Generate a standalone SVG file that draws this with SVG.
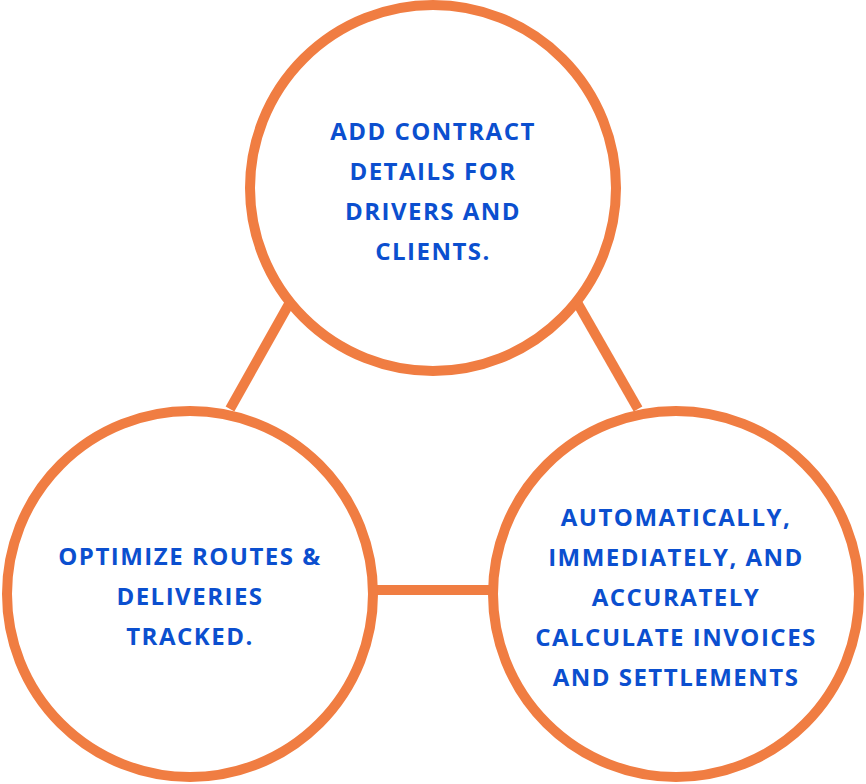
<svg xmlns="http://www.w3.org/2000/svg" width="866" height="784" viewBox="0 0 866 784">
<style>
.c{fill:#fff;stroke:#F07D42;stroke-width:10}
.l{stroke:#F07D42;stroke-width:10;fill:none}
text{font-family:"Open Sans","Liberation Sans",sans-serif;font-weight:bold;font-size:24px;letter-spacing:1.5px;fill:#0B4FCF;text-anchor:middle}
</style>
<rect width="866" height="784" fill="#fff"/>
<g id="connectors">
<line class="l" x1="289" y1="304" x2="230" y2="409"/>
<line class="l" x1="578" y1="304" x2="638" y2="409"/>
<line class="l" x1="373" y1="590" x2="492" y2="590"/>
</g>
<g id="top"><circle class="c" cx="433" cy="188" r="183"/>
<text x="433" y="140">ADD CONTRACT</text><text x="433" y="180">DETAILS FOR</text><text x="433" y="220">DRIVERS AND</text><text x="433" y="260">CLIENTS.</text></g>
<g id="left"><circle class="c" cx="190" cy="594" r="183"/>
<text x="190" y="565">OPTIMIZE ROUTES &amp;</text><text x="190" y="605">DELIVERIES</text><text x="190" y="645">TRACKED.</text></g>
<g id="right"><circle class="c" cx="676" cy="594" r="183"/>
<text x="676" y="526">AUTOMATICALLY,</text><text x="676" y="566">IMMEDIATELY, AND</text><text x="676" y="606">ACCURATELY</text><text x="676" y="646">CALCULATE INVOICES</text><text x="676" y="686">AND SETTLEMENTS</text></g>
</svg>
